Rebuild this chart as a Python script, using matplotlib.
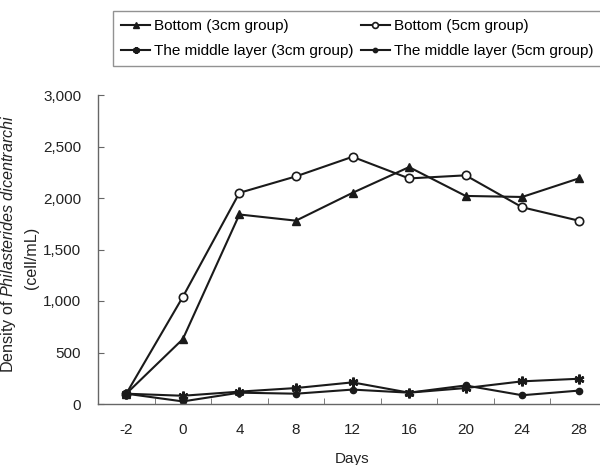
import matplotlib
matplotlib.use("Agg")
import matplotlib.pyplot as plt
import numpy as np

days = ["-2", "0", "4", "8", "12", "16", "20", "24", "28"]
bottom_3cm = [100, 630, 1840, 1780, 2050, 2300, 2020, 2010, 2190]
bottom_5cm = [100, 1040, 2050, 2210, 2400, 2190, 2220, 1910, 1780]
middle_3cm = [100, 80, 120, 155, 210, 110, 155, 220, 245]
middle_5cm = [100, 25, 110, 100, 140, 110, 180, 85, 130]
labels = ["Bottom (3cm group)", "Bottom (5cm group)",
          "The middle layer (3cm group)", "The middle layer (5cm group)"]

plt.rcParams['font.family'] = ['Liberation Sans', 'DejaVu Sans']
plt.rcParams['mathtext.fontset'] = 'custom'
plt.rcParams['mathtext.it'] = 'Liberation Sans:italic'
plt.rcParams['mathtext.rm'] = 'Liberation Sans'

fig = plt.figure(figsize=(6, 4.65), dpi=100)
ax = fig.add_axes([98/600, 1-404/465, 509/600, (404-95)/465])

x = np.arange(len(days))
lc = '#1a1a1a'
h1, = ax.plot(x, bottom_3cm, color=lc, lw=1.5, marker='^', ms=6, mfc=lc, mec=lc)
h2, = ax.plot(x, bottom_5cm, color=lc, lw=1.5, marker='o', ms=6, mfc='white', mec=lc, mew=1.2)
h3, = ax.plot(x, middle_3cm, color=lc, lw=1.5, marker=(6, 2, 0), ms=7, mec=lc, mew=1.8)
h4, = ax.plot(x, middle_5cm, color=lc, lw=1.5, marker='o', ms=4.5, mfc=lc, mec=lc)

ax.set_xlim(-0.5, len(days) - 0.5)
ax.set_ylim(0, 3000)
ax.set_xticks(x)
ax.set_xticklabels(days)
ax.set_xticks(np.arange(0.5, len(days) - 0.5, 1), minor=True)
ax.tick_params(axis='x', which='major', length=0, pad=14, labelsize=11, colors='#222222')
ax.tick_params(axis='x', which='minor', direction='in', length=4, color='#666666')
ax.set_yticks(np.arange(0, 3001, 500))
ax.set_yticklabels([f"{v:,}" for v in range(0, 3001, 500)])
ax.tick_params(axis='y', direction='in', length=4, pad=12, labelsize=11,
               color='#666666', labelcolor='#222222')

for s in ['top', 'right']:
    ax.spines[s].set_visible(False)
for s in ['left', 'bottom']:
    ax.spines[s].set_color('#666666')
    ax.spines[s].set_linewidth(1.0)

fig.text(9/600, 1-244/465, r"Density of $\it{Philasterides\ dicentrarchi}$",
         rotation=90, ha='center', va='center', fontsize=11.6, color='#222222')
fig.text(31/600, 1-258/465, "(cell/mL)", rotation=90, ha='center', va='center',
         fontsize=11.6, color='#222222')
fig.text(352/600, 1-452/465, "Days", ha='center', va='top', fontsize=11, color='#222222')

leg = fig.legend([h1, h3, h2, h4], [labels[0], labels[2], labels[1], labels[3]],
                 ncol=2, loc='upper left',
                 bbox_to_anchor=(113/600, 1-11/465), frameon=True, fancybox=False,
                 edgecolor='#777777', fontsize=11, handlelength=1.9,
                 handletextpad=0.26, columnspacing=0.45, borderpad=0.55,
                 labelspacing=0.7, markerscale=0.7, borderaxespad=0)
leg.get_frame().set_linewidth(1.0)

fig.savefig("out.png", dpi=100)
